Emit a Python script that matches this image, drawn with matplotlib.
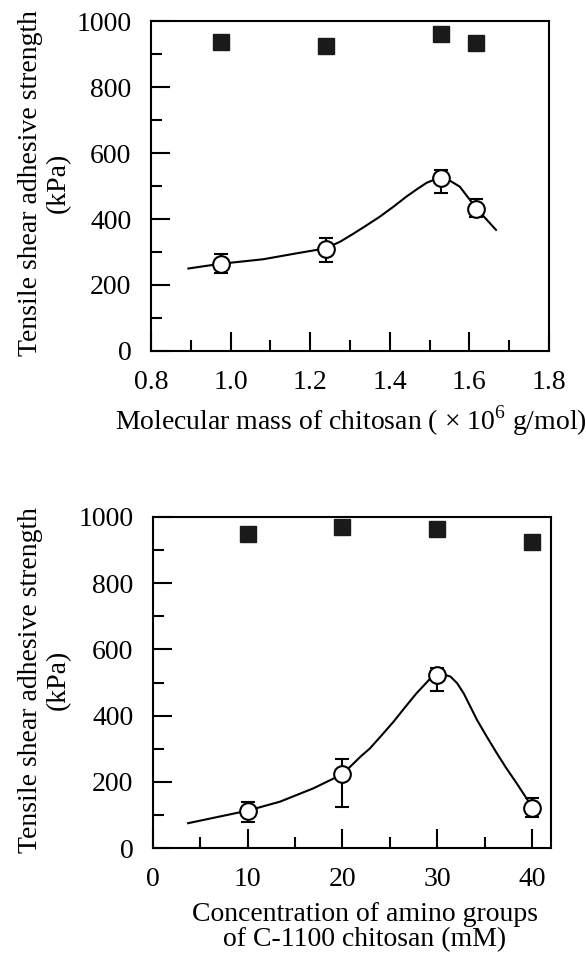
import matplotlib.pyplot as plt
from matplotlib.ticker import MultipleLocator

plt.rcParams['font.family'] = ['Liberation Serif', 'DejaVu Serif']
plt.rcParams['mathtext.fontset'] = 'custom'
plt.rcParams['mathtext.rm'] = 'Liberation Serif'
plt.rcParams['font.size'] = 20

# top panel: molecular mass of chitosan
mw_x = [0.975, 1.24, 1.529, 1.618]
mw_sq = [935, 925, 960, 934]
mw_circ = [263, 309, 523, 429]
mw_err_lo = [26, 38, 43, 22]
mw_err_hi = [31, 34, 25, 32]
mw_curve_x = [0.894, 0.973, 1.082, 1.166, 1.239, 1.275, 1.308, 1.342, 1.375, 1.409,
              1.442, 1.468, 1.493, 1.512, 1.530, 1.550, 1.576, 1.618, 1.667]
mw_curve_y = [250, 264, 278, 296, 311, 331, 355, 381, 407, 437,
              468, 490, 510, 519, 523, 517, 498, 432, 367]

# bottom panel: concentration of amino groups
conc_x = [10, 20, 30, 40]
conc_sq = [948, 971, 963, 924]
conc_circ = [112, 223, 524, 122]
conc_err_lo = [32, 98, 49, 27]
conc_err_hi = [26, 46, 20, 30]
conc_curve_x = [3.7, 10.0, 13.4, 16.9, 20.0, 21.9, 22.9, 24.15, 25.4, 26.6, 27.8, 29.3, 30.1,
                30.8, 31.4, 32.1, 32.8, 33.5, 34.2, 35.2, 36.3, 37.3, 38.4, 40.0]
conc_curve_y = [75, 113, 140, 180, 223, 276, 301, 341, 382, 425, 467, 513, 523,
                523, 518, 498, 467, 427, 387, 338, 286, 241, 195, 125]

ylabel = 'Tensile shear adhesive strength\n(kPa)'


def draw(ax, x, sq, circ, lo, hi, cx, cy):
    ax.plot(cx, cy, color='black', lw=1.5, zorder=2)
    ax.errorbar(x, circ, yerr=[lo, hi], fmt='none', ecolor='black',
                elinewidth=1.5, capsize=5, capthick=1.5, zorder=3)
    ax.plot(x, circ, 'o', ms=12, mfc='white', mec='black', mew=1.5, zorder=4)
    ax.plot(x, sq, 's', ms=11, color='#1a1a1a', zorder=4)
    ax.set_ylim(0, 1000)
    ax.yaxis.set_major_locator(MultipleLocator(200))
    ax.yaxis.set_minor_locator(MultipleLocator(100))
    ax.tick_params(which='both', direction='in', top=False, right=False, width=1.5)
    ax.tick_params(which='major', length=14, pad=14)
    ax.tick_params(which='minor', length=8)
    for s in ax.spines.values():
        s.set_linewidth(1.5)


fig = plt.figure(figsize=(5.86, 9.64), dpi=100)

ax1 = fig.add_axes([0.2577, 0.6359, 0.679, 0.3423])
draw(ax1, mw_x, mw_sq, mw_circ, mw_err_lo, mw_err_hi, mw_curve_x, mw_curve_y)
ax1.set_xlim(0.8, 1.8)
ax1.xaxis.set_major_locator(MultipleLocator(0.2))
ax1.xaxis.set_minor_locator(MultipleLocator(0.1))
ax1.xaxis.set_major_formatter(lambda v, p: f'{v:.1f}')
fig.text(44 / 586, 1 - 183 / 964, ylabel, rotation=90, ha='center', va='center',
         ma='center', linespacing=1.15)
fig.text(351 / 586, 1 - 430 / 964, r'Molecular mass of chitosan ( $\times$ 10$^{6}$ g/mol)',
         ha='center', va='baseline')

ax2 = fig.add_axes([0.2611, 0.1203, 0.679, 0.3434])
draw(ax2, conc_x, conc_sq, conc_circ, conc_err_lo, conc_err_hi, conc_curve_x, conc_curve_y)
ax2.set_xlim(0, 42)
ax2.xaxis.set_major_locator(MultipleLocator(10))
ax2.xaxis.set_minor_locator(MultipleLocator(5))
fig.text(44 / 586, 1 - 680 / 964, ylabel, rotation=90, ha='center', va='center',
         ma='center', linespacing=1.15)
fig.text(365 / 586, 1 - 946 / 964, 'Concentration of amino groups\nof C-1100 chitosan (mM)',
         ha='center', va='baseline', ma='center', linespacing=1.0)

fig.savefig('out.png', dpi=100)
